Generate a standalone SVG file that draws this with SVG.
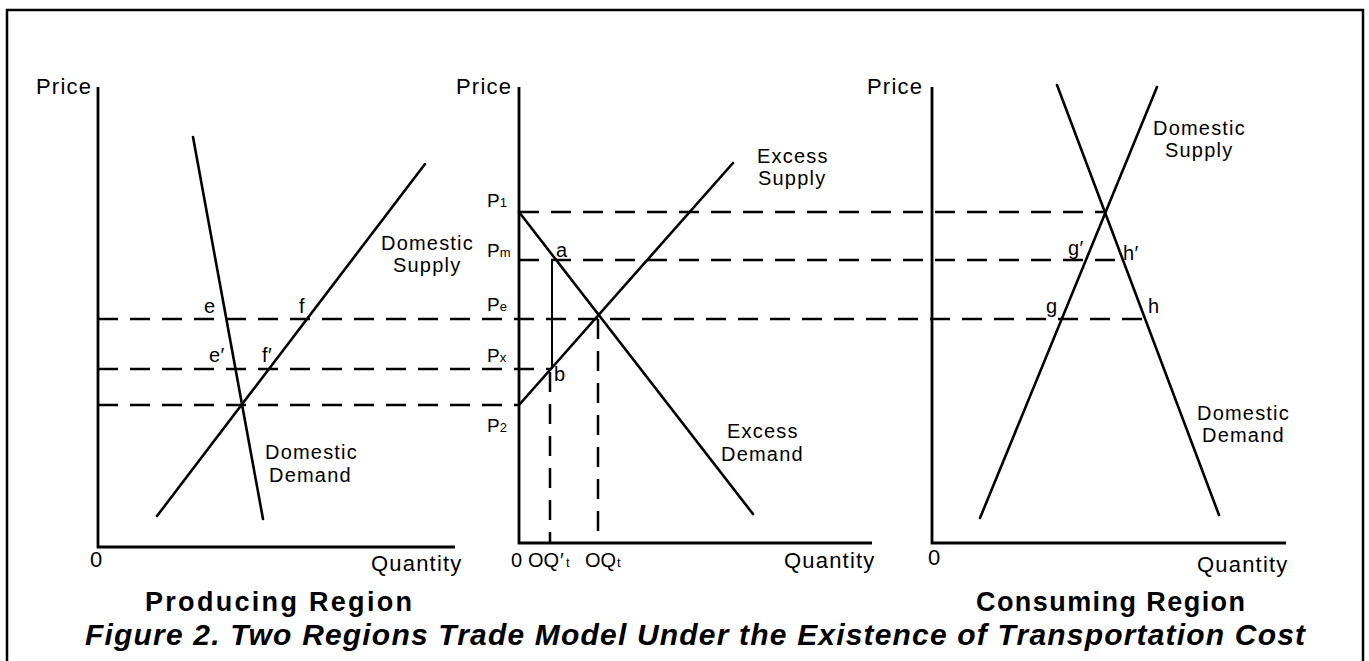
<svg xmlns="http://www.w3.org/2000/svg" width="1369" height="661" viewBox="0 0 1369 661">
<style>
text{font-family:"Liberation Sans",Arial,Helvetica,sans-serif;fill:#000}
.ax{font-size:22px;letter-spacing:1.2px}
.q{font-size:20px}
.lbl{font-size:20px;letter-spacing:1.2px}
.pt{font-size:20px;letter-spacing:0.5px}
.p{font-size:19px}
.sub{font-size:13px}
.title{font-size:27px;font-weight:bold}
.cap{font-size:30px;font-weight:bold;font-style:italic}
.axis{fill:none;stroke:#000;stroke-width:2.8}
.curve{fill:none;stroke:#000;stroke-width:2.6;stroke-linecap:round}
.dash{fill:none;stroke:#000;stroke-width:2.5;stroke-dasharray:20 12}
.thin{fill:none;stroke:#000;stroke-width:2}
</style>
<rect width="1369" height="661" fill="#fff"/>
<rect id="frame" x="7" y="10" width="1356" height="720" fill="none" stroke="#000" stroke-width="2.5"/>

<g id="connectors">
  <path class="dash" d="M98,319 H1145"/>
  <path class="dash" d="M98,369 H551"/>
  <path class="dash" d="M98,405 H519"/>
  <path class="dash" d="M519,212 H1105"/>
  <path class="dash" d="M519,260 H1123"/>
  <path class="dash" d="M550,372 V543"/>
  <path class="dash" d="M598,319 V543"/>
  <path class="thin" d="M552,260 V369"/>
</g>

<g id="producing-region">
  <path class="axis" d="M98,87 V547 H455"/>
  <line class="curve" x1="193" y1="137" x2="263" y2="519"/>
  <line class="curve" x1="157" y1="516" x2="425" y2="164"/>
  <text class="ax" x="36" y="94">Price</text>
  <text class="ax" x="90" y="567">0</text>
  <text class="ax" x="371" y="571">Quantity</text>
  <text class="lbl" x="381" y="250">Domestic</text>
  <text class="lbl" x="393" y="272">Supply</text>
  <text class="lbl" x="265" y="459">Domestic</text>
  <text class="lbl" x="269" y="482">Demand</text>
  <text class="pt" x="204" y="313">e</text>
  <text class="pt" x="299" y="313">f</text>
  <text class="pt" x="209" y="362">e′</text>
  <text class="pt" x="262" y="362">f′</text>
</g>

<g id="trade-market">
  <path class="axis" d="M519,87 V543 H872"/>
  <line class="curve" x1="519" y1="405" x2="733" y2="163"/>
  <line class="curve" x1="519" y1="212" x2="753" y2="514"/>
  <text class="ax" x="456" y="94">Price</text>
  <text class="p" x="487" y="207">P<tspan class="sub">1</tspan></text>
  <text class="p" x="487" y="257">P<tspan class="sub">m</tspan></text>
  <text class="p" x="487" y="311">P<tspan class="sub">e</tspan></text>
  <text class="p" x="487" y="362">P<tspan class="sub">x</tspan></text>
  <text class="p" x="487" y="432">P<tspan class="sub">2</tspan></text>
  <text class="pt" x="556" y="257">a</text>
  <text class="pt" x="554" y="381">b</text>
  <text class="q" x="511" y="567">0</text>
  <text class="q" x="528" y="567">OQ</text>
  <text class="q" x="560" y="567">′</text>
  <text class="sub" x="566" y="567">t</text>
  <text class="q" x="585" y="567">OQ</text>
  <text class="sub" x="617" y="567">t</text>
  <text class="ax" x="784" y="568">Quantity</text>
  <text class="lbl" x="757" y="163">Excess</text>
  <text class="lbl" x="758" y="185">Supply</text>
  <text class="lbl" x="727" y="438">Excess</text>
  <text class="lbl" x="721" y="461">Demand</text>
</g>

<g id="consuming-region">
  <path class="axis" d="M932,87 V543 H1286"/>
  <line class="curve" x1="1057" y1="85" x2="1219" y2="515"/>
  <line class="curve" x1="1157" y1="87" x2="980" y2="518"/>
  <text class="ax" x="867" y="94">Price</text>
  <text class="ax" x="928" y="565">0</text>
  <text class="ax" x="1197" y="572">Quantity</text>
  <text class="lbl" x="1153" y="135">Domestic</text>
  <text class="lbl" x="1165" y="157">Supply</text>
  <text class="lbl" x="1197" y="420">Domestic</text>
  <text class="lbl" x="1202" y="442">Demand</text>
  <text class="pt" x="1068" y="255">g′</text>
  <text class="pt" x="1123" y="260">h′</text>
  <text class="pt" x="1046" y="313">g</text>
  <text class="pt" x="1148" y="313">h</text>
</g>

<g id="captions">
  <text class="title" x="145" y="611" textLength="267" lengthAdjust="spacing">Producing Region</text>
  <text class="title" x="976" y="611" textLength="269" lengthAdjust="spacing">Consuming Region</text>
  <text class="cap" x="85" y="645" textLength="1220" lengthAdjust="spacing">Figure 2. Two Regions Trade Model Under the Existence of Transportation Cost</text>
</g>
</svg>
